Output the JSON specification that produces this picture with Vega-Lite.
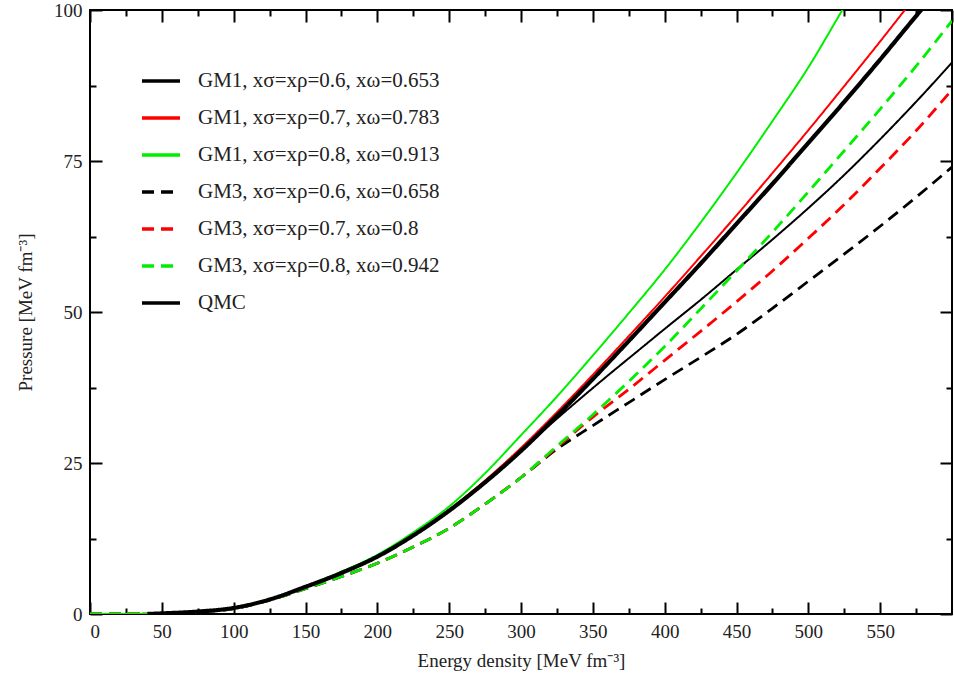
{
  "$schema": "https://vega.github.io/schema/vega-lite/v6.json",
  "width": 862,
  "height": 604,
  "autosize": "none",
  "padding": {"left": 90, "top": 10, "right": 2, "bottom": 69},
  "background": "white",
  "config": {
    "view": {"stroke": "black", "strokeWidth": 2},
    "axis": {"grid": false, "domain": false, "tickColor": "black", "labelFont": "Liberation Serif", "titleFont": "Liberation Serif", "labelColor": "#222", "titleColor": "#222", "labelFontSize": 19, "titleFontSize": 19, "titleFontWeight": "normal", "tickWidth": 2}
  },
  "data": {"values": [
    {"series": "GM1, xσ=xρ=0.6, xω=0.653", "x": 0, "y": 0},
    {"series": "GM1, xσ=xρ=0.6, xω=0.653", "x": 25, "y": 0},
    {"series": "GM1, xσ=xρ=0.6, xω=0.653", "x": 50, "y": 0.1},
    {"series": "GM1, xσ=xρ=0.6, xω=0.653", "x": 75, "y": 0.4},
    {"series": "GM1, xσ=xρ=0.6, xω=0.653", "x": 100, "y": 1.0},
    {"series": "GM1, xσ=xρ=0.6, xω=0.653", "x": 125, "y": 2.4},
    {"series": "GM1, xσ=xρ=0.6, xω=0.653", "x": 150, "y": 4.5},
    {"series": "GM1, xσ=xρ=0.6, xω=0.653", "x": 175, "y": 6.8},
    {"series": "GM1, xσ=xρ=0.6, xω=0.653", "x": 200, "y": 9.5},
    {"series": "GM1, xσ=xρ=0.6, xω=0.653", "x": 225, "y": 13.0},
    {"series": "GM1, xσ=xρ=0.6, xω=0.653", "x": 250, "y": 17.1},
    {"series": "GM1, xσ=xρ=0.6, xω=0.653", "x": 275, "y": 21.8},
    {"series": "GM1, xσ=xρ=0.6, xω=0.653", "x": 300, "y": 27.0},
    {"series": "GM1, xσ=xρ=0.6, xω=0.653", "x": 320, "y": 31.3},
    {"series": "GM1, xσ=xρ=0.6, xω=0.653", "x": 340, "y": 35.4},
    {"series": "GM1, xσ=xρ=0.6, xω=0.653", "x": 360, "y": 39.4},
    {"series": "GM1, xσ=xρ=0.6, xω=0.653", "x": 380, "y": 43.3},
    {"series": "GM1, xσ=xρ=0.6, xω=0.653", "x": 400, "y": 47.2},
    {"series": "GM1, xσ=xρ=0.6, xω=0.653", "x": 425, "y": 52.0},
    {"series": "GM1, xσ=xρ=0.6, xω=0.653", "x": 450, "y": 57.0},
    {"series": "GM1, xσ=xρ=0.6, xω=0.653", "x": 475, "y": 62.0},
    {"series": "GM1, xσ=xρ=0.6, xω=0.653", "x": 500, "y": 67.2},
    {"series": "GM1, xσ=xρ=0.6, xω=0.653", "x": 525, "y": 72.7},
    {"series": "GM1, xσ=xρ=0.6, xω=0.653", "x": 550, "y": 78.6},
    {"series": "GM1, xσ=xρ=0.6, xω=0.653", "x": 575, "y": 84.8},
    {"series": "GM1, xσ=xρ=0.6, xω=0.653", "x": 600, "y": 91.3},
    {"series": "GM1, xσ=xρ=0.7, xω=0.783", "x": 0, "y": 0},
    {"series": "GM1, xσ=xρ=0.7, xω=0.783", "x": 25, "y": 0},
    {"series": "GM1, xσ=xρ=0.7, xω=0.783", "x": 50, "y": 0.1},
    {"series": "GM1, xσ=xρ=0.7, xω=0.783", "x": 75, "y": 0.4},
    {"series": "GM1, xσ=xρ=0.7, xω=0.783", "x": 100, "y": 1.0},
    {"series": "GM1, xσ=xρ=0.7, xω=0.783", "x": 125, "y": 2.4},
    {"series": "GM1, xσ=xρ=0.7, xω=0.783", "x": 150, "y": 4.5},
    {"series": "GM1, xσ=xρ=0.7, xω=0.783", "x": 175, "y": 6.8},
    {"series": "GM1, xσ=xρ=0.7, xω=0.783", "x": 200, "y": 9.5},
    {"series": "GM1, xσ=xρ=0.7, xω=0.783", "x": 225, "y": 13.1},
    {"series": "GM1, xσ=xρ=0.7, xω=0.783", "x": 250, "y": 17.3},
    {"series": "GM1, xσ=xρ=0.7, xω=0.783", "x": 275, "y": 22.1},
    {"series": "GM1, xσ=xρ=0.7, xω=0.783", "x": 300, "y": 27.5},
    {"series": "GM1, xσ=xρ=0.7, xω=0.783", "x": 325, "y": 33.4},
    {"series": "GM1, xσ=xρ=0.7, xω=0.783", "x": 350, "y": 39.6},
    {"series": "GM1, xσ=xρ=0.7, xω=0.783", "x": 375, "y": 46.0},
    {"series": "GM1, xσ=xρ=0.7, xω=0.783", "x": 400, "y": 52.5},
    {"series": "GM1, xσ=xρ=0.7, xω=0.783", "x": 425, "y": 59.2},
    {"series": "GM1, xσ=xρ=0.7, xω=0.783", "x": 450, "y": 66.0},
    {"series": "GM1, xσ=xρ=0.7, xω=0.783", "x": 475, "y": 73.0},
    {"series": "GM1, xσ=xρ=0.7, xω=0.783", "x": 500, "y": 80.1},
    {"series": "GM1, xσ=xρ=0.7, xω=0.783", "x": 525, "y": 87.4},
    {"series": "GM1, xσ=xρ=0.7, xω=0.783", "x": 550, "y": 94.8},
    {"series": "GM1, xσ=xρ=0.7, xω=0.783", "x": 575, "y": 102.4},
    {"series": "GM1, xσ=xρ=0.8, xω=0.913", "x": 0, "y": 0},
    {"series": "GM1, xσ=xρ=0.8, xω=0.913", "x": 25, "y": 0},
    {"series": "GM1, xσ=xρ=0.8, xω=0.913", "x": 50, "y": 0.1},
    {"series": "GM1, xσ=xρ=0.8, xω=0.913", "x": 75, "y": 0.4},
    {"series": "GM1, xσ=xρ=0.8, xω=0.913", "x": 100, "y": 1.0},
    {"series": "GM1, xσ=xρ=0.8, xω=0.913", "x": 125, "y": 2.4},
    {"series": "GM1, xσ=xρ=0.8, xω=0.913", "x": 150, "y": 4.6},
    {"series": "GM1, xσ=xρ=0.8, xω=0.913", "x": 175, "y": 7.0},
    {"series": "GM1, xσ=xρ=0.8, xω=0.913", "x": 200, "y": 9.8},
    {"series": "GM1, xσ=xρ=0.8, xω=0.913", "x": 225, "y": 13.5},
    {"series": "GM1, xσ=xρ=0.8, xω=0.913", "x": 250, "y": 17.8},
    {"series": "GM1, xσ=xρ=0.8, xω=0.913", "x": 275, "y": 23.3},
    {"series": "GM1, xσ=xρ=0.8, xω=0.913", "x": 300, "y": 29.6},
    {"series": "GM1, xσ=xρ=0.8, xω=0.913", "x": 325, "y": 36.0},
    {"series": "GM1, xσ=xρ=0.8, xω=0.913", "x": 350, "y": 42.8},
    {"series": "GM1, xσ=xρ=0.8, xω=0.913", "x": 375, "y": 49.8},
    {"series": "GM1, xσ=xρ=0.8, xω=0.913", "x": 400, "y": 57.0},
    {"series": "GM1, xσ=xρ=0.8, xω=0.913", "x": 425, "y": 64.8},
    {"series": "GM1, xσ=xρ=0.8, xω=0.913", "x": 450, "y": 73.0},
    {"series": "GM1, xσ=xρ=0.8, xω=0.913", "x": 475, "y": 81.6},
    {"series": "GM1, xσ=xρ=0.8, xω=0.913", "x": 500, "y": 90.5},
    {"series": "GM1, xσ=xρ=0.8, xω=0.913", "x": 525, "y": 100.5},
    {"series": "GM1, xσ=xρ=0.8, xω=0.913", "x": 550, "y": 110.0},
    {"series": "GM3, xσ=xρ=0.6, xω=0.658", "x": 0, "y": 0},
    {"series": "GM3, xσ=xρ=0.6, xω=0.658", "x": 25, "y": 0},
    {"series": "GM3, xσ=xρ=0.6, xω=0.658", "x": 50, "y": 0.05},
    {"series": "GM3, xσ=xρ=0.6, xω=0.658", "x": 75, "y": 0.35},
    {"series": "GM3, xσ=xρ=0.6, xω=0.658", "x": 100, "y": 0.9},
    {"series": "GM3, xσ=xρ=0.6, xω=0.658", "x": 125, "y": 2.3},
    {"series": "GM3, xσ=xρ=0.6, xω=0.658", "x": 150, "y": 4.2},
    {"series": "GM3, xσ=xρ=0.6, xω=0.658", "x": 175, "y": 6.2},
    {"series": "GM3, xσ=xρ=0.6, xω=0.658", "x": 200, "y": 8.4},
    {"series": "GM3, xσ=xρ=0.6, xω=0.658", "x": 225, "y": 11.1},
    {"series": "GM3, xσ=xρ=0.6, xω=0.658", "x": 250, "y": 14.2},
    {"series": "GM3, xσ=xρ=0.6, xω=0.658", "x": 275, "y": 18.2},
    {"series": "GM3, xσ=xρ=0.6, xω=0.658", "x": 300, "y": 22.6},
    {"series": "GM3, xσ=xρ=0.6, xω=0.658", "x": 325, "y": 27.3},
    {"series": "GM3, xσ=xρ=0.6, xω=0.658", "x": 350, "y": 31.2},
    {"series": "GM3, xσ=xρ=0.6, xω=0.658", "x": 375, "y": 35.0},
    {"series": "GM3, xσ=xρ=0.6, xω=0.658", "x": 400, "y": 38.8},
    {"series": "GM3, xσ=xρ=0.6, xω=0.658", "x": 425, "y": 42.5},
    {"series": "GM3, xσ=xρ=0.6, xω=0.658", "x": 450, "y": 46.3},
    {"series": "GM3, xσ=xρ=0.6, xω=0.658", "x": 475, "y": 50.6},
    {"series": "GM3, xσ=xρ=0.6, xω=0.658", "x": 500, "y": 55.1},
    {"series": "GM3, xσ=xρ=0.6, xω=0.658", "x": 525, "y": 59.6},
    {"series": "GM3, xσ=xρ=0.6, xω=0.658", "x": 550, "y": 64.2},
    {"series": "GM3, xσ=xρ=0.6, xω=0.658", "x": 575, "y": 69.0},
    {"series": "GM3, xσ=xρ=0.6, xω=0.658", "x": 600, "y": 74.0},
    {"series": "GM3, xσ=xρ=0.7, xω=0.8", "x": 0, "y": 0},
    {"series": "GM3, xσ=xρ=0.7, xω=0.8", "x": 25, "y": 0},
    {"series": "GM3, xσ=xρ=0.7, xω=0.8", "x": 50, "y": 0.05},
    {"series": "GM3, xσ=xρ=0.7, xω=0.8", "x": 75, "y": 0.35},
    {"series": "GM3, xσ=xρ=0.7, xω=0.8", "x": 100, "y": 0.9},
    {"series": "GM3, xσ=xρ=0.7, xω=0.8", "x": 125, "y": 2.3},
    {"series": "GM3, xσ=xρ=0.7, xω=0.8", "x": 150, "y": 4.2},
    {"series": "GM3, xσ=xρ=0.7, xω=0.8", "x": 175, "y": 6.2},
    {"series": "GM3, xσ=xρ=0.7, xω=0.8", "x": 200, "y": 8.4},
    {"series": "GM3, xσ=xρ=0.7, xω=0.8", "x": 225, "y": 11.1},
    {"series": "GM3, xσ=xρ=0.7, xω=0.8", "x": 250, "y": 14.2},
    {"series": "GM3, xσ=xρ=0.7, xω=0.8", "x": 275, "y": 18.2},
    {"series": "GM3, xσ=xρ=0.7, xω=0.8", "x": 300, "y": 22.6},
    {"series": "GM3, xσ=xρ=0.7, xω=0.8", "x": 325, "y": 27.6},
    {"series": "GM3, xσ=xρ=0.7, xω=0.8", "x": 350, "y": 32.6},
    {"series": "GM3, xσ=xρ=0.7, xω=0.8", "x": 375, "y": 37.2},
    {"series": "GM3, xσ=xρ=0.7, xω=0.8", "x": 400, "y": 42.0},
    {"series": "GM3, xσ=xρ=0.7, xω=0.8", "x": 425, "y": 46.8},
    {"series": "GM3, xσ=xρ=0.7, xω=0.8", "x": 450, "y": 51.7},
    {"series": "GM3, xσ=xρ=0.7, xω=0.8", "x": 475, "y": 56.8},
    {"series": "GM3, xσ=xρ=0.7, xω=0.8", "x": 500, "y": 62.2},
    {"series": "GM3, xσ=xρ=0.7, xω=0.8", "x": 525, "y": 67.8},
    {"series": "GM3, xσ=xρ=0.7, xω=0.8", "x": 550, "y": 73.8},
    {"series": "GM3, xσ=xρ=0.7, xω=0.8", "x": 575, "y": 80.0},
    {"series": "GM3, xσ=xρ=0.7, xω=0.8", "x": 600, "y": 86.8},
    {"series": "GM3, xσ=xρ=0.8, xω=0.942", "x": 0, "y": 0},
    {"series": "GM3, xσ=xρ=0.8, xω=0.942", "x": 25, "y": 0},
    {"series": "GM3, xσ=xρ=0.8, xω=0.942", "x": 50, "y": 0.05},
    {"series": "GM3, xσ=xρ=0.8, xω=0.942", "x": 75, "y": 0.35},
    {"series": "GM3, xσ=xρ=0.8, xω=0.942", "x": 100, "y": 0.9},
    {"series": "GM3, xσ=xρ=0.8, xω=0.942", "x": 125, "y": 2.3},
    {"series": "GM3, xσ=xρ=0.8, xω=0.942", "x": 150, "y": 4.2},
    {"series": "GM3, xσ=xρ=0.8, xω=0.942", "x": 175, "y": 6.2},
    {"series": "GM3, xσ=xρ=0.8, xω=0.942", "x": 200, "y": 8.4},
    {"series": "GM3, xσ=xρ=0.8, xω=0.942", "x": 225, "y": 11.1},
    {"series": "GM3, xσ=xρ=0.8, xω=0.942", "x": 250, "y": 14.2},
    {"series": "GM3, xσ=xρ=0.8, xω=0.942", "x": 275, "y": 18.2},
    {"series": "GM3, xσ=xρ=0.8, xω=0.942", "x": 300, "y": 22.6},
    {"series": "GM3, xσ=xρ=0.8, xω=0.942", "x": 325, "y": 27.8},
    {"series": "GM3, xσ=xρ=0.8, xω=0.942", "x": 350, "y": 33.0},
    {"series": "GM3, xσ=xρ=0.8, xω=0.942", "x": 375, "y": 38.5},
    {"series": "GM3, xσ=xρ=0.8, xω=0.942", "x": 400, "y": 44.3},
    {"series": "GM3, xσ=xρ=0.8, xω=0.942", "x": 425, "y": 50.5},
    {"series": "GM3, xσ=xρ=0.8, xω=0.942", "x": 450, "y": 56.8},
    {"series": "GM3, xσ=xρ=0.8, xω=0.942", "x": 475, "y": 63.2},
    {"series": "GM3, xσ=xρ=0.8, xω=0.942", "x": 500, "y": 69.9},
    {"series": "GM3, xσ=xρ=0.8, xω=0.942", "x": 525, "y": 76.7},
    {"series": "GM3, xσ=xρ=0.8, xω=0.942", "x": 550, "y": 83.6},
    {"series": "GM3, xσ=xρ=0.8, xω=0.942", "x": 575, "y": 90.7},
    {"series": "GM3, xσ=xρ=0.8, xω=0.942", "x": 600, "y": 98.2},
    {"series": "QMC", "x": 40, "y": 0},
    {"series": "QMC", "x": 50, "y": 0.1},
    {"series": "QMC", "x": 75, "y": 0.4},
    {"series": "QMC", "x": 100, "y": 1.0},
    {"series": "QMC", "x": 125, "y": 2.4},
    {"series": "QMC", "x": 150, "y": 4.5},
    {"series": "QMC", "x": 175, "y": 6.8},
    {"series": "QMC", "x": 200, "y": 9.5},
    {"series": "QMC", "x": 225, "y": 13.0},
    {"series": "QMC", "x": 250, "y": 17.1},
    {"series": "QMC", "x": 275, "y": 21.8},
    {"series": "QMC", "x": 300, "y": 27.0},
    {"series": "QMC", "x": 325, "y": 32.8},
    {"series": "QMC", "x": 350, "y": 38.9},
    {"series": "QMC", "x": 375, "y": 45.2},
    {"series": "QMC", "x": 400, "y": 51.6},
    {"series": "QMC", "x": 425, "y": 58.0},
    {"series": "QMC", "x": 450, "y": 64.6},
    {"series": "QMC", "x": 475, "y": 71.2},
    {"series": "QMC", "x": 500, "y": 78.0},
    {"series": "QMC", "x": 525, "y": 84.8},
    {"series": "QMC", "x": 550, "y": 91.8},
    {"series": "QMC", "x": 575, "y": 99.0},
    {"series": "QMC", "x": 600, "y": 106.0}
  ]},
  "resolve": {"axis": {"x": "independent", "y": "independent"}},
  "layer": [
    {
      "mark": {"type": "line", "clip": true, "interpolate": "monotone"},
      "encoding": {
        "x": {"field": "x", "type": "quantitative", "scale": {"domain": [0, 600], "nice": false},
          "axis": {"orient": "bottom", "values": [0, 50, 100, 150, 200, 250, 300, 350, 400, 450, 500, 550], "tickSize": -12, "labelPadding": 20, "title": "Energy density [MeV fm⁻³]", "titlePadding": 10}},
        "y": {"field": "y", "type": "quantitative", "scale": {"domain": [0, 100], "nice": false},
          "axis": {"orient": "left", "values": [0, 25, 50, 75, 100], "tickSize": -12, "labelPadding": 20, "title": "Pressure [MeV fm⁻³]", "titlePadding": 18}},
        "color": {"field": "series", "type": "nominal",
          "scale": {"domain": ["GM1, xσ=xρ=0.6, xω=0.653", "GM1, xσ=xρ=0.7, xω=0.783", "GM1, xσ=xρ=0.8, xω=0.913", "GM3, xσ=xρ=0.6, xω=0.658", "GM3, xσ=xρ=0.7, xω=0.8", "GM3, xσ=xρ=0.8, xω=0.942", "QMC"],
            "range": ["#000000", "#ff0000", "#00ee00", "#000000", "#ff0000", "#00ee00", "#000000"]},
          "legend": {"title": null, "orient": "none", "legendX": 50, "legendY": 50, "symbolType": "stroke", "symbolSize": 1444, "symbolStrokeWidth": 3.5, "labelFont": "Liberation Serif", "labelFontSize": 21, "labelColor": "#222", "labelOffset": 16, "labelLimit": 0, "rowPadding": 6}},
        "strokeDash": {"field": "series", "type": "nominal",
          "scale": {"domain": ["GM1, xσ=xρ=0.6, xω=0.653", "GM1, xσ=xρ=0.7, xω=0.783", "GM1, xσ=xρ=0.8, xω=0.913", "GM3, xσ=xρ=0.6, xω=0.658", "GM3, xσ=xρ=0.7, xω=0.8", "GM3, xσ=xρ=0.8, xω=0.942", "QMC"],
            "range": [[1, 0], [1, 0], [1, 0], [12, 7], [12, 7], [12, 7], [1, 0]]}},
        "strokeWidth": {"condition": [
            {"test": "datum.series === 'QMC'", "value": 4.2},
            {"test": "indexof(datum.series, 'GM3') === 0", "value": 2.8}
          ], "value": 2}
      }
    },
    {
      "mark": {"type": "point", "opacity": 0},
      "encoding": {
        "x": {"field": "x", "type": "quantitative", "scale": {"domain": [0, 600], "nice": false},
          "axis": {"orient": "bottom", "values": [25, 75, 125, 175, 225, 275, 325, 375, 425, 475, 525, 575], "tickSize": -6, "labels": false, "title": null}},
        "y": {"field": "y", "type": "quantitative", "scale": {"domain": [0, 100], "nice": false},
          "axis": {"orient": "left", "values": [12.5, 37.5, 62.5, 87.5], "tickSize": -6, "labels": false, "title": null}}
      }
    },
    {
      "mark": {"type": "point", "opacity": 0},
      "encoding": {
        "x": {"field": "x", "type": "quantitative", "scale": {"domain": [0, 600], "nice": false},
          "axis": {"orient": "top", "values": [0, 50, 100, 150, 200, 250, 300, 350, 400, 450, 500, 550, 600], "tickSize": -12, "labels": false, "title": null}},
        "y": {"field": "y", "type": "quantitative", "scale": {"domain": [0, 100], "nice": false},
          "axis": {"orient": "right", "values": [0, 25, 50, 75, 100], "tickSize": -12, "labels": false, "title": null}}
      }
    },
    {
      "mark": {"type": "point", "opacity": 0},
      "encoding": {
        "x": {"field": "x", "type": "quantitative", "scale": {"domain": [0, 600], "nice": false},
          "axis": {"orient": "top", "values": [25, 75, 125, 175, 225, 275, 325, 375, 425, 475, 525, 575], "tickSize": -6, "labels": false, "title": null}},
        "y": {"field": "y", "type": "quantitative", "scale": {"domain": [0, 100], "nice": false},
          "axis": {"orient": "right", "values": [12.5, 37.5, 62.5, 87.5], "tickSize": -6, "labels": false, "title": null}}
      }
    }
  ]
}
